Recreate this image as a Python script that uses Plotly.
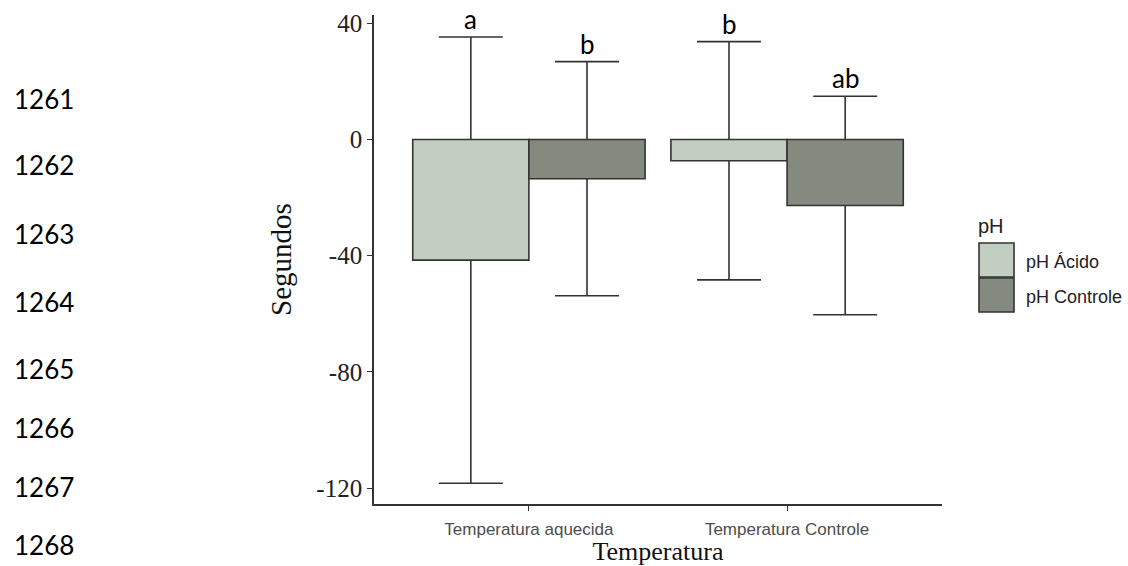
import plotly.graph_objects as go

# ---------------- data ----------------
categories = ["Temperatura aquecida", "Temperatura Controle"]
groups = ["pH Ácido", "pH Controle"]
mean_acido = [-41.5, -7.3]
mean_controle = [-13.5, -22.7]
sd_acido = [76.8, 41.0]
sd_controle = [40.3, 37.6]
letters_acido = ["a", "b"]
letters_controle = ["b", "ab"]
y_tickvals = [-120, -80, -40, 0, 40]
y_ticktext = ["-120", "-80", "-40", "0", "40"]
line_numbers = ["1261", "1262", "1263", "1264", "1265", "1266", "1267", "1268"]

# ---------------- style / layout ----------------
W, H = 1128, 566
L, R, T, B = 374, 942, 15, 504
col_acido = "#c3cec2"
col_controle = "#848a80"
ink = "#333333"
serif = "Liberation Serif, Times New Roman, serif"
sans = "Liberation Sans, Arial, sans-serif"
doc_font = "Lato, Carlito, Calibri, sans-serif"
line_number_y_px = [99, 165, 234, 302, 369, 428, 487, 545]
y_range = [-125.45, 42.85]
x_range = [-0.6, 1.6]
group_half = 0.225  # bar offset from category centre (dodge 0.9 / 4)


def px_x(px):
    return (px - L) / (R - L)


def px_y(py):
    return (B - py) / (B - T)


fig = go.Figure()

# error bars on base axes (drawn below the bars)
for means, sds, off in [(mean_acido, sd_acido, "a"), (mean_controle, sd_controle, "c")]:
    fig.add_trace(go.Bar(
        x=categories, y=means, offsetgroup=off, showlegend=False, hoverinfo="skip",
        marker=dict(color="rgba(0,0,0,0)", line=dict(width=0)),
        error_y=dict(type="data", array=sds, visible=True, color=ink, thickness=1.6, width=32),
        xaxis="x", yaxis="y",
    ))

# bars on overlaying axes (drawn on top of the error bars)
for means, name, col, off in [(mean_acido, groups[0], col_acido, "a"),
                              (mean_controle, groups[1], col_controle, "c")]:
    fig.add_trace(go.Bar(
        x=categories, y=means, name=name, offsetgroup=off, showlegend=False,
        marker=dict(color=col, line=dict(color=ink, width=1.6)),
        xaxis="x2", yaxis="y2",
    ))

annotations = []
# significance letters
for i in range(len(categories)):
    for means, sds, letters, sign in [(mean_acido, sd_acido, letters_acido, -1),
                                      (mean_controle, sd_controle, letters_controle, 1)]:
        annotations.append(dict(
            x=i + sign * group_half, y=means[i] + sds[i], xref="x", yref="y",
            text=letters[i], showarrow=False, yanchor="bottom", yshift=0,
            font=dict(family=doc_font, size=26, color="#000000"),
        ))

# document line numbers
for txt, py in zip(line_numbers, line_number_y_px):
    annotations.append(dict(
        x=px_x(12), y=px_y(py), xref="paper", yref="paper", text=txt, showarrow=False,
        xanchor="left", yanchor="middle", font=dict(family=doc_font, size=26, color="#000000"),
    ))

# manual legend (ggplot style)
annotations.append(dict(x=px_x(976), y=px_y(226), xref="paper", yref="paper", text="pH",
                        showarrow=False, xanchor="left", yanchor="middle",
                        font=dict(family=sans, size=20, color="#222222")))
shapes = []
for k, (name, col) in enumerate(zip(groups, [col_acido, col_controle])):
    top = 243 + k * 35
    shapes.append(dict(type="rect", xref="paper", yref="paper",
                       x0=px_x(979), x1=px_x(1014), y0=px_y(top), y1=px_y(top + 34),
                       fillcolor=col, line=dict(color=ink, width=1.6)))
    annotations.append(dict(x=px_x(1024), y=px_y(top + 19), xref="paper", yref="paper",
                            text=name, showarrow=False, xanchor="left", yanchor="middle",
                            font=dict(family=sans, size=18, color="#222222")))

axis_common = dict(showgrid=False, zeroline=False, automargin=False)
fig.update_layout(
    width=W, height=H,
    margin=dict(l=L, r=W - R, t=T, b=H - B, pad=0, autoexpand=False),
    paper_bgcolor="white", plot_bgcolor="white",
    barmode="group", bargap=0.1, bargroupgap=0,
    showlegend=False,
    xaxis=dict(type="category", range=x_range, showline=True, linecolor=ink, linewidth=1.6,
               ticks="outside", ticklen=5, tickwidth=1.4, tickcolor=ink,
               ticklabelstandoff=4,
               tickfont=dict(family=sans, size=17, color="#4d4d4d"),
               title=dict(text="Temperatura", font=dict(family=serif, size=26, color="#111111"),
                          standoff=6),
               **axis_common),
    yaxis=dict(range=y_range, showline=True, linecolor=ink, linewidth=1.6,
               tickvals=y_tickvals, ticktext=y_ticktext,
               ticks="outside", ticklen=5, tickwidth=1.4, tickcolor=ink,
               tickfont=dict(family=serif, size=25, color="#222222"),
               title=dict(text="Segundos", font=dict(family=serif, size=29, color="#111111"),
                          standoff=16),
               **axis_common),
    xaxis2=dict(type="category", range=x_range, overlaying="x", visible=False, **axis_common),
    yaxis2=dict(range=y_range, overlaying="y", visible=False, **axis_common),
    annotations=annotations,
    shapes=shapes,
)

fig.write_html("out.html")
